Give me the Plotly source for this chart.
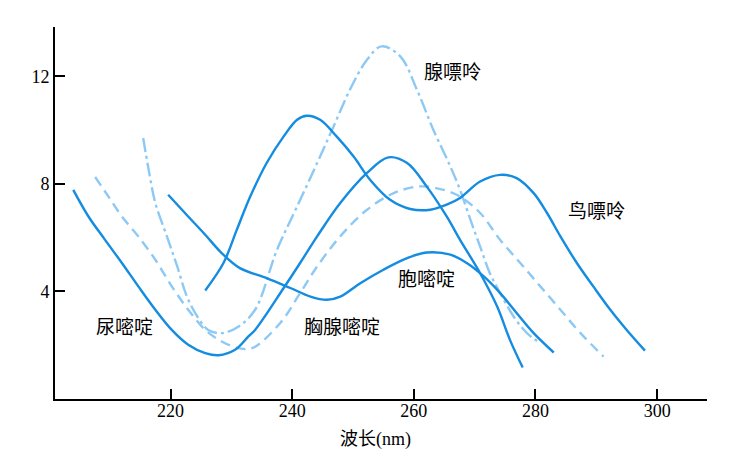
import plotly.graph_objects as go

# 吸收曲线数据
uracil_x = [204.0, 206.5, 209.2, 212.0, 214.7, 217.5, 220.2, 222.9, 225.7, 227.9, 230.6, 232.8,
            233.9, 238.6, 241.3, 244.1, 247.9, 252.3, 255.8, 258.9, 262.1, 265.4, 267.6, 270.9,
            273.7, 275.8, 277.9]
uracil_y = [7.78, 6.79, 5.93, 5.06, 4.19, 3.32, 2.57, 2.02, 1.71, 1.63, 1.83, 2.33,
            2.57, 4.13, 5.06, 6.05, 7.29, 8.41, 8.99, 8.78, 7.91, 6.79, 5.92, 4.68,
            3.44, 2.20, 1.17]

thymine_x = [207.6, 209.8, 212.0, 214.7, 217.5, 220.2, 222.9, 225.7, 228.4, 231.2, 233.4, 238.0,
             241.3, 244.1, 247.9, 252.3, 256.7, 261.0, 264.9, 267.6, 270.9, 274.2, 277.5, 280.8,
             284.1, 287.4, 291.2]
thymine_y = [8.26, 7.53, 6.79, 6.05, 5.18, 4.19, 3.32, 2.57, 2.14, 1.89, 1.89, 2.82,
             3.94, 4.93, 6.05, 7.04, 7.66, 7.91, 7.78, 7.53, 6.92, 5.92, 5.06, 4.19,
             3.32, 2.45, 1.58]

adenine_x = [215.5, 216.4, 217.5, 219.4, 221.1, 222.7, 224.4, 226.2, 228.4, 231.2, 233.9, 237.5,
             240.8, 244.1, 246.8, 249.5, 252.3, 254.7, 257.8, 260.5, 263.2, 266.0, 267.6, 269.3,
             270.9, 272.5, 274.2, 276.4, 278.6, 280.8]
adenine_y = [9.71, 8.53, 7.29, 6.05, 4.93, 3.81, 3.07, 2.57, 2.45, 2.70, 3.32, 5.55,
             7.16, 8.78, 10.14, 11.51, 12.62, 13.12, 12.74, 11.51, 10.02, 8.65, 7.78, 6.67,
             5.67, 4.68, 3.94, 3.07, 2.45, 2.08]

cytosine_x = [219.6, 222.9, 225.7, 228.4, 231.4, 235.8, 239.7, 243.0, 245.7, 247.9, 251.2, 255.0,
              258.9, 262.1, 266.0, 268.7, 271.5, 274.2, 276.9, 279.7, 283.0]
cytosine_y = [7.60, 6.79, 6.11, 5.43, 4.87, 4.50, 4.13, 3.81, 3.69, 3.81, 4.31, 4.81,
              5.24, 5.45, 5.37, 5.06, 4.56, 3.94, 3.20, 2.45, 1.73]

guanine_x = [225.7, 228.7, 230.9, 233.1, 235.8, 238.6, 240.8, 242.4, 244.6, 247.3, 250.1, 252.8,
             256.1, 259.4, 262.7, 265.4, 267.6, 270.9, 274.2, 276.9, 279.7, 281.9, 284.1, 286.8,
             289.5, 292.3, 295.0, 298.0]
guanine_y = [4.04, 5.06, 6.30, 7.53, 8.78, 9.77, 10.39, 10.54, 10.39, 9.77, 9.02, 8.16,
             7.41, 7.07, 7.04, 7.23, 7.48, 8.09, 8.34, 8.22, 7.66, 6.92, 6.05, 5.06,
             4.19, 3.32, 2.57, 1.80]

label_text = ["尿嘧啶", "胸腺嘧啶", "胞嘧啶", "腺嘌呤", "鸟嘌呤"]
label_x = [212.5, 248.2, 262.1, 266.3, 290.0]
label_y = [2.65, 2.65, 4.44, 12.13, 6.98]

x_ticks = [220, 240, 260, 280, 300]
y_ticks = [4, 8, 12]

solid = "#148ce0"
light = "#8dc9f5"
font = "Liberation Serif, Noto Sans CJK SC"

fig = go.Figure()
for xs, ys, col, dash in [
    (adenine_x, adenine_y, light, "14px,4px,3px,4px"),
    (thymine_x, thymine_y, light, "10px,6px"),
    (uracil_x, uracil_y, solid, "solid"),
    (cytosine_x, cytosine_y, solid, "solid"),
    (guanine_x, guanine_y, solid, "solid"),
]:
    fig.add_trace(go.Scatter(
        x=xs, y=ys, mode="lines",
        line=dict(color=col, width=2.4, dash=dash, shape="spline", smoothing=1.0),
        hoverinfo="skip", showlegend=False,
    ))

for t, lx, ly in zip(label_text, label_x, label_y):
    fig.add_annotation(x=lx, y=ly, text=t, showarrow=False,
                       font=dict(size=19, color="black", family=font))

fig.add_annotation(xref="paper", yref="paper", x=0.492, y=-0.11, text="波长(nm)",
                   showarrow=False, yanchor="middle",
                   font=dict(size=18, color="black", family=font))

# page body has an 8px margin, so the figure is a bit smaller and shifted
fig.update_layout(
    width=733, height=441,
    margin=dict(l=47, r=34, t=19, b=50),
    plot_bgcolor="white", paper_bgcolor="white",
    font=dict(family=font, size=18, color="black"),
    xaxis=dict(range=[201.0, 308.2], tickvals=x_ticks, ticks="inside", ticklen=10,
               tickwidth=1.5, tickcolor="black", showline=True, linecolor="black",
               linewidth=1.6, showgrid=False, zeroline=False, ticklabelstandoff=-5),
    yaxis=dict(range=[0, 13.84], tickvals=y_ticks, ticks="inside", ticklen=10,
               tickwidth=1.5, tickcolor="black", showline=True, linecolor="black",
               linewidth=1.6, showgrid=False, zeroline=False),
)

fig.write_html("out.html")
